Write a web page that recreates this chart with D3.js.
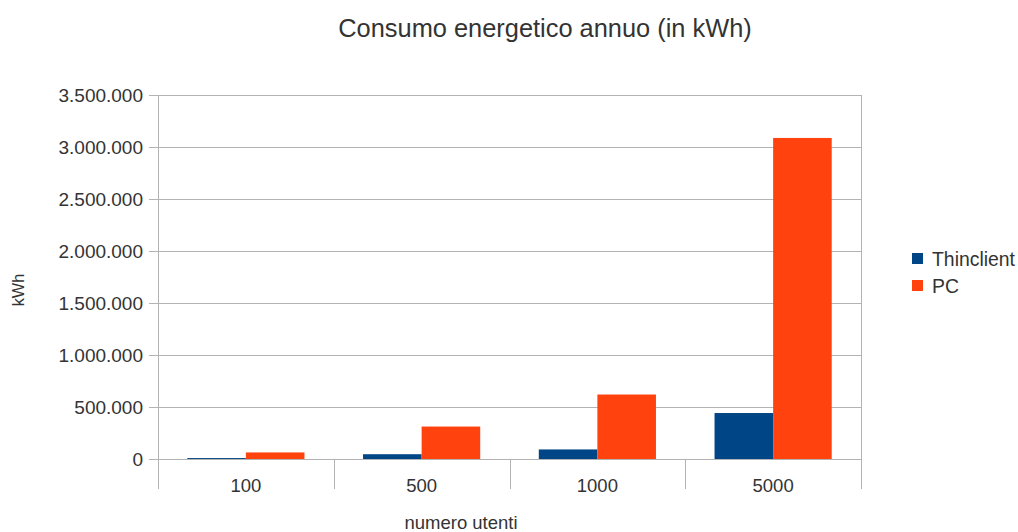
<!DOCTYPE html>
<html>
<head>
<meta charset="utf-8">
<script src="https://cdn.jsdelivr.net/npm/d3@7"></script>
<style>
  body { margin: 0; background: #fff; }
  text { font-family: "Liberation Sans", Arial, sans-serif; fill: #333; }
</style>
</head>
<body>
<svg id="chart" width="1018" height="532"></svg>
<script>
// chart data
var categories = ["100", "500", "1000", "5000"];
var seriesNames = ["Thinclient", "PC"];
var thinclient = [9000, 46000, 92000, 442000];
var pc = [63000, 312000, 620000, 3087000];
var yTicks = [0, 500000, 1000000, 1500000, 2000000, 2500000, 3000000, 3500000];

var colors = ["#004586", "#ff420e"];
var gridColor = "#b3b3b3";

var svg = d3.select("#chart");
var plotLeft = 158, plotRight = 861, plotTop = 95, plotBottom = 459;

var x = d3.scaleBand().domain(categories).range([plotLeft, plotRight]);
var xInner = d3.scaleBand().domain(seriesNames)
    .range([x.bandwidth() / 6, x.bandwidth() * 5 / 6]);
var y = d3.scaleLinear().domain([0, 3500000]).range([plotBottom, plotTop]);

var fmt = function (v) { return d3.format(",")(v).replace(/,/g, "."); };

// horizontal grid
svg.append("g").selectAll("line")
    .data(yTicks)
    .enter().append("line")
    .attr("x1", plotLeft - 9).attr("x2", plotRight)
    .attr("y1", function (d) { return Math.round(y(d)) + 0.5; })
    .attr("y2", function (d) { return Math.round(y(d)) + 0.5; })
    .attr("stroke", gridColor).attr("stroke-width", 1);

// right border
svg.append("line")
    .attr("x1", plotRight + 0.5).attr("x2", plotRight + 0.5)
    .attr("y1", plotTop).attr("y2", plotBottom)
    .attr("stroke", gridColor);

// left axis line
svg.append("line")
    .attr("x1", plotLeft + 0.5).attr("x2", plotLeft + 0.5)
    .attr("y1", plotTop).attr("y2", plotBottom)
    .attr("stroke", gridColor);

// y labels
svg.append("g").selectAll("text")
    .data(yTicks)
    .enter().append("text")
    .attr("x", plotLeft - 15)
    .attr("y", function (d) { return y(d) + 7; })
    .attr("text-anchor", "end")
    .style("font-size", "19px")
    .text(fmt);

// bars
var groups = svg.append("g").selectAll("g")
    .data(categories)
    .enter().append("g")
    .attr("transform", function (d) { return "translate(" + x(d) + ",0)"; });

groups.selectAll("rect")
    .data(function (d, i) {
      return [{ s: seriesNames[0], v: thinclient[i], c: colors[0] },
              { s: seriesNames[1], v: pc[i], c: colors[1] }];
    })
    .enter().append("rect")
    .attr("x", function (d) { return xInner(d.s); })
    .attr("width", xInner.bandwidth())
    .attr("y", function (d) { return y(d.v); })
    .attr("height", function (d) { return plotBottom - y(d.v); })
    .attr("fill", function (d) { return d.c; });

// bottom axis line and category separators
svg.append("line")
    .attr("x1", plotLeft).attr("x2", plotRight)
    .attr("y1", plotBottom + 0.5).attr("y2", plotBottom + 0.5)
    .attr("stroke", gridColor);

var seps = categories.map(function (c) { return x(c); }).concat([plotRight]);
svg.append("g").selectAll("line")
    .data(seps)
    .enter().append("line")
    .attr("x1", function (d) { return Math.round(d) + 0.5; })
    .attr("x2", function (d) { return Math.round(d) + 0.5; })
    .attr("y1", plotBottom).attr("y2", plotBottom + 30)
    .attr("stroke", gridColor);

// x labels
svg.append("g").selectAll("text")
    .data(categories)
    .enter().append("text")
    .attr("x", function (d) { return x(d) + x.bandwidth() / 2; })
    .attr("y", plotBottom + 33)
    .attr("text-anchor", "middle")
    .style("font-size", "18.5px")
    .text(function (d) { return d; });

// titles
svg.append("text")
    .attr("x", 545).attr("y", 37)
    .attr("text-anchor", "middle")
    .style("font-size", "25.4px")
    .text("Consumo energetico annuo (in kWh)");

svg.append("text")
    .attr("x", 461).attr("y", 529)
    .attr("text-anchor", "middle")
    .style("font-size", "18.5px")
    .text("numero utenti");

svg.append("text")
    .attr("transform", "translate(24,290) rotate(-90)")
    .attr("text-anchor", "middle")
    .style("font-size", "16.3px")
    .text("kWh");

// legend
var legend = svg.append("g").attr("transform", "translate(912,253)");
seriesNames.forEach(function (name, i) {
  legend.append("rect")
    .attr("x", 0).attr("y", i * 27)
    .attr("width", 11).attr("height", 11)
    .attr("fill", colors[i]);
  legend.append("text")
    .attr("x", 20).attr("y", i * 27 + 13)
    .style("font-size", "19.4px")
    .text(name);
});
</script>
</body>
</html>
